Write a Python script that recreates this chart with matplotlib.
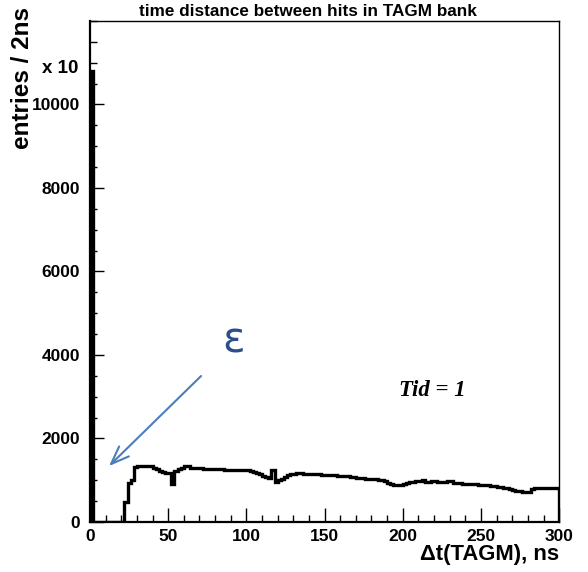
# tagm_dt.py ; time distance between hits in TAGM bank
import numpy as np
import matplotlib.pyplot as plt

# 2 ns bins from 0 to 300 ns
bin_width = 2
counts = [
    10800, 0, 0, 0, 0, 0, 0, 0, 0, 0,            # 0-20
    0, 490, 930, 1000, 1320, 1340, 1350, 1350, 1345, 1340,   # 20-40
    1300, 1270, 1220, 1190, 1170, 1170, 900, 1210, 1260, 1300,  # 40-60
    1345, 1330, 1305, 1300, 1290, 1285, 1280, 1275, 1270, 1268,  # 60-80
    1265, 1262, 1258, 1255, 1252, 1250, 1248, 1246, 1245, 1244,  # 80-100
    1235, 1215, 1200, 1180, 1150, 1110, 1085, 1060, 1240, 965,   # 100-120
    1000, 1030, 1080, 1130, 1145, 1155, 1165, 1165, 1160, 1155,  # 120-140
    1150, 1148, 1145, 1141, 1135, 1130, 1125, 1120, 1115, 1112,  # 140-160
    1110, 1105, 1095, 1085, 1075, 1062, 1055, 1048, 1040, 1032,  # 160-180
    1030, 1025, 1010, 995, 980, 945, 905, 895, 888, 885,         # 180-200
    910, 935, 950, 965, 975, 990, 1005, 965, 970, 975,           # 200-220
    980, 970, 964, 970, 980, 975, 945, 930, 925, 920,            # 220-240
    915, 910, 905, 902, 895, 890, 885, 878, 870, 860,            # 240-260
    850, 835, 820, 806, 790, 770, 745, 740, 730, 725,            # 260-280
    730, 800, 805, 808, 812, 818, 820, 815, 810, 806,            # 280-300
]
edges = np.arange(0, bin_width * len(counts) + 1, bin_width)

plt.rcParams['font.family'] = ['Liberation Sans', 'DejaVu Sans']
plt.rcParams['font.weight'] = 'bold'

fig = plt.figure(figsize=(5.88, 5.72), dpi=100)
ax = fig.add_axes([0.153, 0.0874, 0.798, 0.876])

ax.stairs(counts, edges, color='black', linewidth=2.4, baseline=0)

ax.set_xlim(0, 300)
ax.set_ylim(0, 12000)
ax.set_xticks(np.arange(0, 301, 50))
ax.set_xticks(np.arange(0, 301, 10), minor=True)
ax.set_yticks(np.arange(0, 10001, 2000))
ax.set_yticks(np.arange(0, 12001, 500), minor=True)
ax.tick_params(which='both', direction='in', top=False, right=False,
               labelsize=12.5, width=1)
ax.tick_params(which='major', length=10, pad=5)
ax.tick_params(which='minor', length=5)
ax.tick_params(axis='y', pad=7)
for lab in ax.get_xticklabels() + ax.get_yticklabels():
    lab.set_fontweight('bold')
for s in ax.spines.values():
    s.set_linewidth(1)
ax.spines['left'].set_linewidth(1.6)
ax.spines['bottom'].set_linewidth(1.6)

ax.text(-0.025, 10860, 'x 10', transform=ax.get_yaxis_transform(),
        ha='right', va='center', fontsize=13.5, fontweight='bold')

fig.text(0.524, 0.993, 'time distance between hits in TAGM bank',
         ha='center', va='top', fontsize=12.3, fontweight='bold')
fig.text(23 / 588, 1 - 7 / 572, 'entries / 2ns', rotation=90,
         ha='center', va='top', fontsize=17.5, fontweight='bold')
fig.text(559 / 588, 1 - 560 / 572, '\u0394t(TAGM), ns',
         ha='right', va='baseline', fontsize=15.8, fontweight='bold')

ax.text(219, 3160, 'Tid = 1', ha='center', va='center', fontsize=16.4,
        family='Liberation Serif', fontweight='bold', style='italic')

ax.annotate('', xy=(10.9, 1293), xytext=(72.3, 3543),
            arrowprops=dict(arrowstyle='->,head_length=1.3,head_width=0.5',
                            color='#4a7ebb', linewidth=1.5))
ax.text(91.5, 4350, '\u03b5', ha='center', va='center', fontsize=30,
        color='#2a4f8a', family='DejaVu Sans', fontweight='normal')

plt.savefig('out.png', dpi=100)
